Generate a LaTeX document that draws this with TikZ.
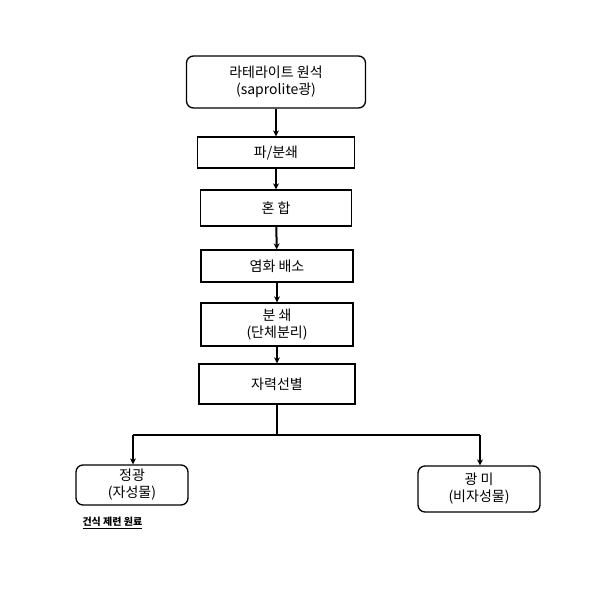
\documentclass[tikz,border=0pt]{standalone}
\usepackage{fontspec}
\setmainfont{Noto Sans CJK KR}
\begin{document}
\begin{tikzpicture}[x=1pt,y=-1pt,
  box/.style={draw,line width=1.3pt,minimum width=#1,inner sep=0pt,align=center,font=\fontsize{14}{17}\selectfont},
  rbox/.style={box=#1,rounded corners=7pt},
  arr/.style={->,line width=2pt,>={Stealth[length=6pt,width=6pt]}}]
\useasboundingbox (0,0) rectangle (600,589);
\usetikzlibrary{arrows.meta}
\node[rbox=179pt,minimum height=52pt] (a) at (276,82) {라테라이트 원석\\(saprolite광)};
\node[box=157pt,minimum height=31pt] (b) at (276,152.5) {파/분쇄};
\node[box=151pt,minimum height=36pt] (c) at (276,208) {혼 합};
\node[box=152pt,minimum height=32pt] (d) at (277,266) {염화 배소};
\node[box=152pt,minimum height=43pt] (e) at (277,324.5) {분 쇄\\(단체분리)};
\node[box=156pt,minimum height=40pt] (f) at (277,384) {자력선별};
\node[rbox=112pt,minimum height=40pt] (g) at (132,485) {정광\\(자성물)};
\node[rbox=122pt,minimum height=46pt] (h) at (479,489) {광 미\\(비자성물)};
\node[font=\fontsize{10}{12}\selectfont\bfseries,anchor=west] (l) at (79,523) {\underline{건식 제련 원료}};
\coordinate (j) at (277,435);
\coordinate (jl) at (133,435);
\coordinate (jr) at (480,435);
\draw[arr] (a) -- (b);
\draw[arr] (b) -- (c);
\draw[arr] (c) -- (d);
\draw[arr] (d) -- (e);
\draw[arr] (e) -- (f);
\draw[line width=2pt] (f.south) -- (j);
\draw[arr] (jl) -- (g.north -| jl);
\draw[arr] (jr) -- (h.north -| jr);
\draw[line width=2pt] (jl) -- (jr);
\end{tikzpicture}
\end{document}
